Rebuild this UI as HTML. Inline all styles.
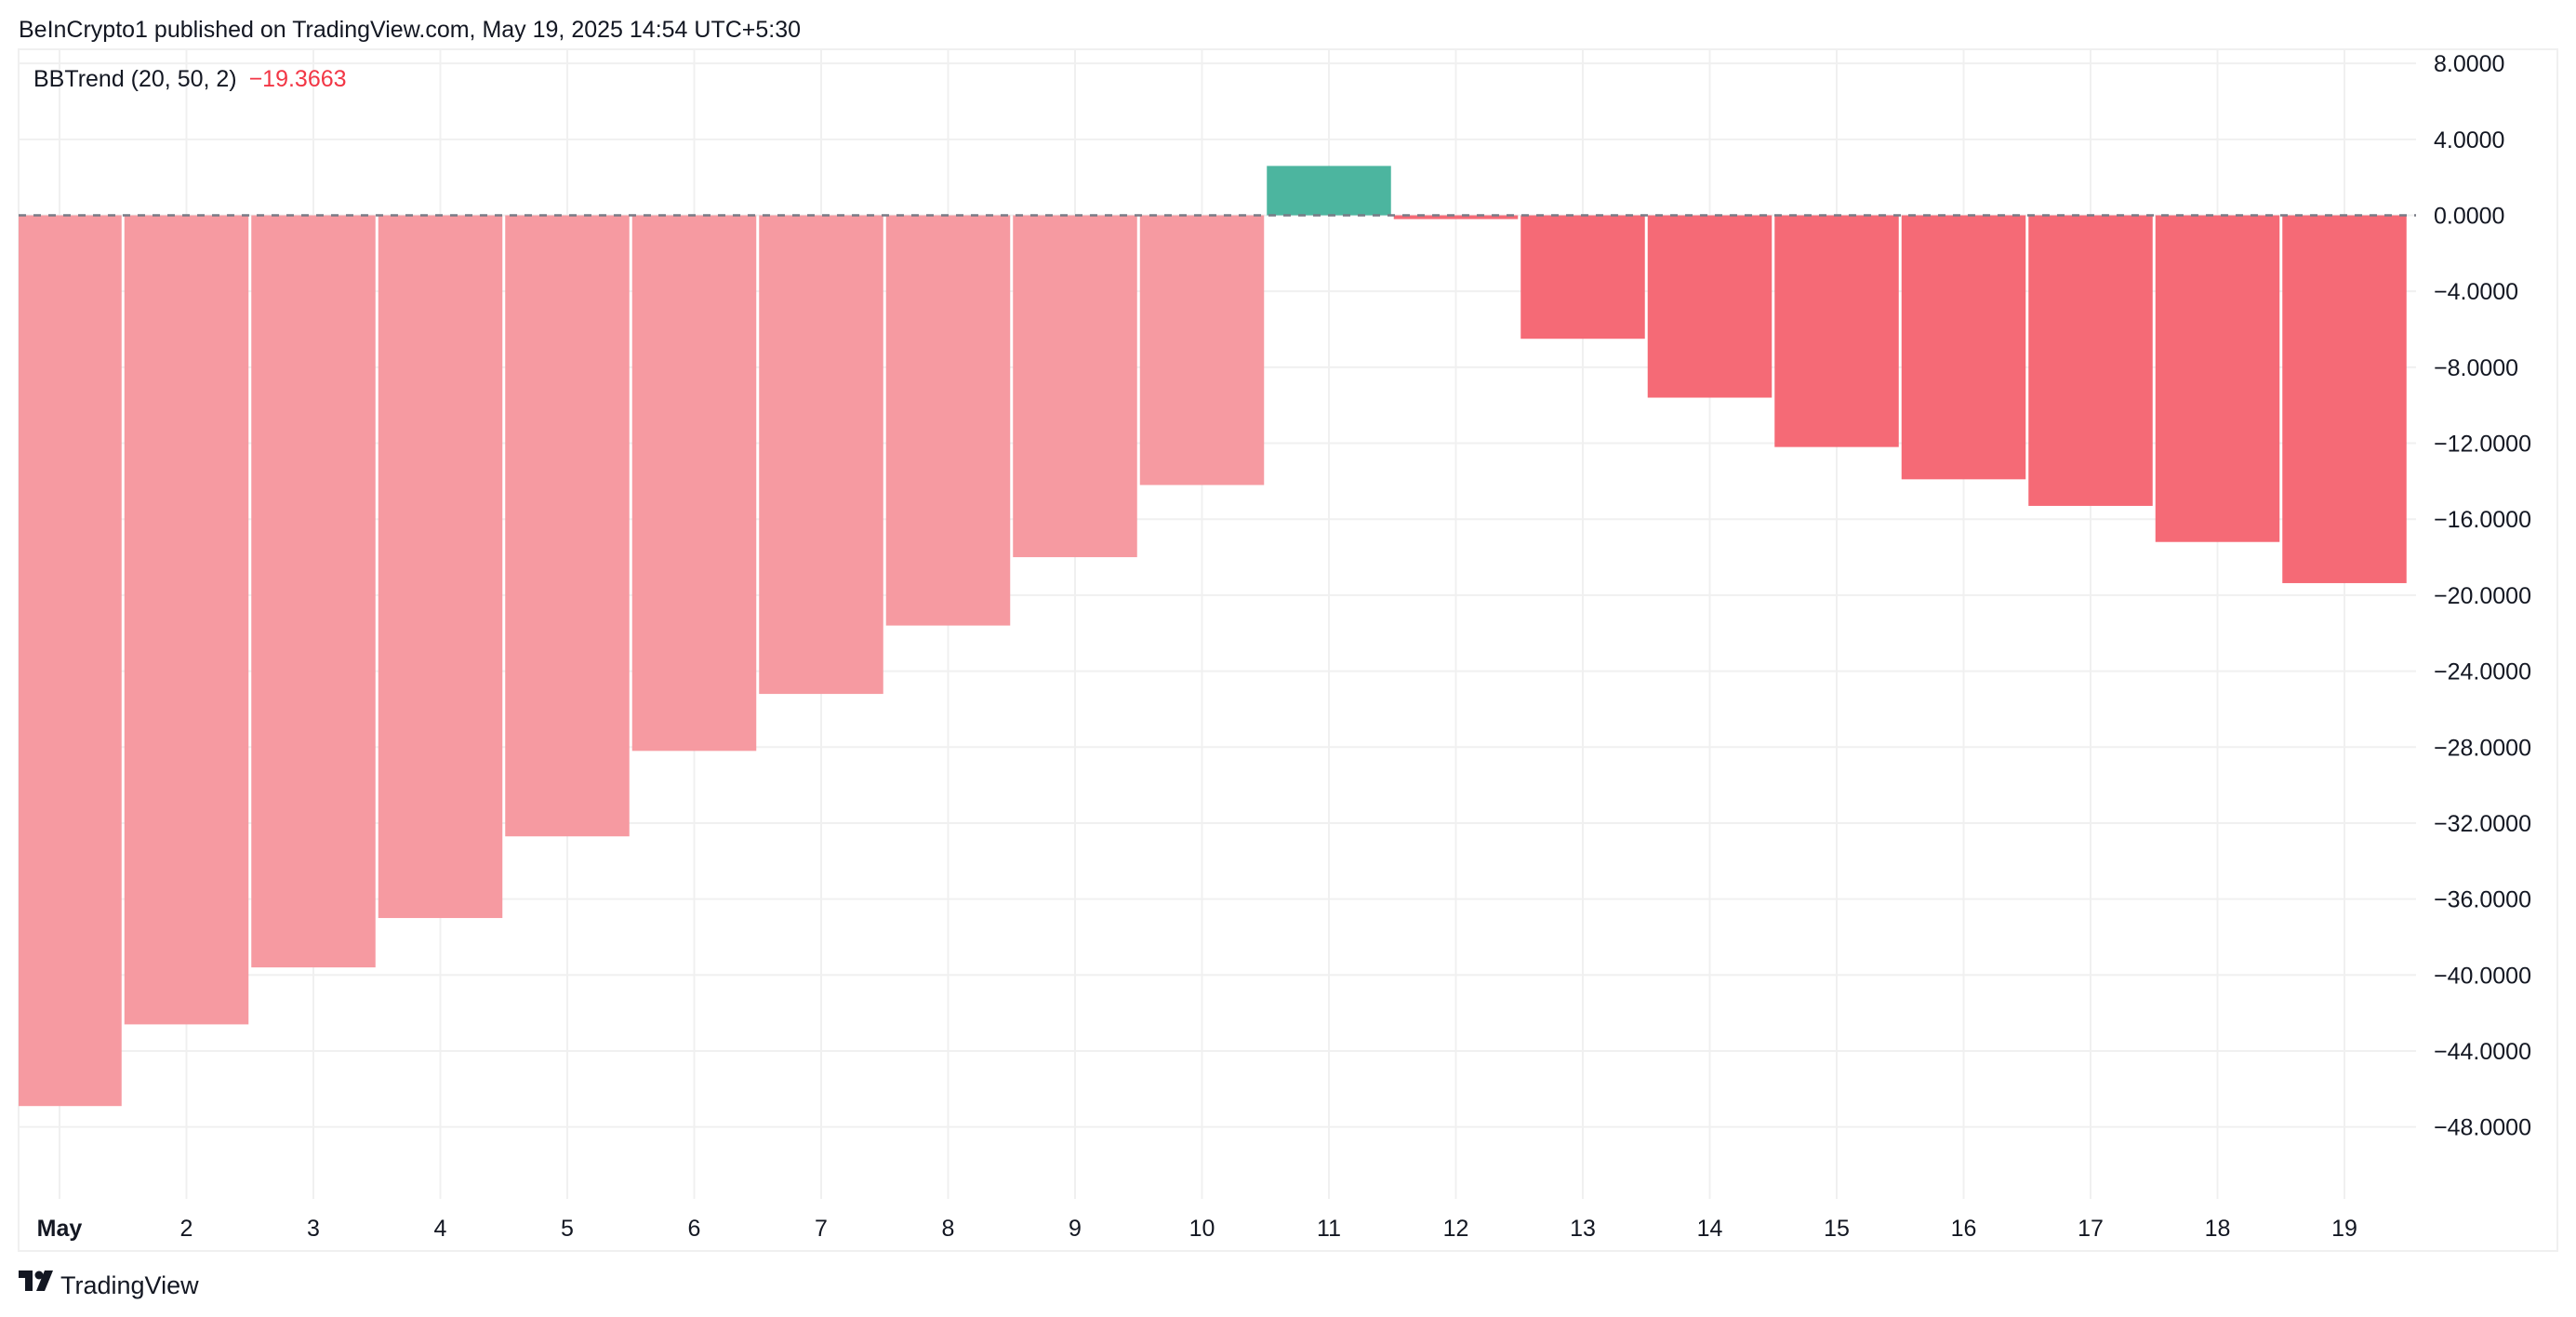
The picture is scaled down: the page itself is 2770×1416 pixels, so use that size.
<!DOCTYPE html>
<html><head><meta charset="utf-8"><style>
html,body{margin:0;padding:0;background:#fff;width:2770px;height:1416px;overflow:hidden;font-family:"Liberation Sans",sans-serif;}
svg text{font-family:"Liberation Sans",sans-serif;}
</style></head><body>
<svg id="chart" width="2770" height="1416" xmlns="http://www.w3.org/2000/svg">
<text x="20" y="40" font-size="25" fill="#131722">BeInCrypto1 published on TradingView.com, May 19, 2025 14:54 UTC+5:30</text>
<rect x="20" y="53" width="2730" height="1292" fill="none" stroke="#f0f0f0" stroke-width="2"/>
<g id="grid"></g>
<g id="bars"></g>
<line x1="20" x2="2598" y1="231.5" y2="231.5" stroke="#787b86" stroke-width="2.5" stroke-dasharray="8,8"/>
<g id="yaxis"></g>
<g id="xaxis"></g>
<text x="36" y="93" font-size="25" fill="#131722">BBTrend (20, 50, 2) <tspan fill="#f23645" dx="6">−19.3663</tspan></text>
<g>
<rect x="20" y="1366" width="14" height="8" fill="#131722"/>
<rect x="27" y="1366" width="8" height="22" fill="#131722"/>
<circle cx="42" cy="1371" r="4.5" fill="#131722"/>
<polygon points="48,1366 57,1366 48,1388 39,1388" fill="#131722"/>
<text x="65" y="1391" font-size="27" fill="#131722">TradingView</text>
</g>
</svg>
<script>
const days = ["May","2","3","4","5","6","7","8","9","10","11","12","13","14","15","16","17","18","19"];
const values = [-46.9,-42.6,-39.6,-37.0,-32.7,-28.2,-25.2,-21.6,-18.0,-14.2,2.6,-0.2,-6.5,-9.6,-12.2,-13.9,-15.3,-17.2,-19.3663];
const yTicks = [8,4,0,-4,-8,-12,-16,-20,-24,-28,-32,-36,-40,-44,-48];
const NS="http://www.w3.org/2000/svg";
const x0=64, dx=136.5, plotL=20, plotR=2598;
function xS(i){return x0+i*dx;}
function yS(v){return 231.5 - v*20.42;}
const grid=document.getElementById('grid'), bars=document.getElementById('bars'), ya=document.getElementById('yaxis'), xa=document.getElementById('xaxis');
yTicks.forEach(t=>{
  const l=document.createElementNS(NS,'line');
  
  
  l.setAttribute('x1',plotL);l.setAttribute('x2',plotR);l.setAttribute('y1',yS(t));l.setAttribute('y2',yS(t));
  l.setAttribute('stroke','#f0f0f0');l.setAttribute('stroke-width','2');grid.appendChild(l);
  const tx=document.createElementNS(NS,'text');
  
  
  tx.setAttribute('x',2617);tx.setAttribute('y',yS(t)+9);tx.setAttribute('font-size','25');tx.setAttribute('fill','#131722');
  tx.textContent=(t<0?'−':'')+Math.abs(t).toFixed(4);ya.appendChild(tx);
});
days.forEach((d,i)=>{
  const l=document.createElementNS(NS,'line');
  
  
  l.setAttribute('x1',xS(i));l.setAttribute('x2',xS(i));l.setAttribute('y1',53);l.setAttribute('y2',1289);
  l.setAttribute('stroke','#f0f0f0');l.setAttribute('stroke-width','2');grid.appendChild(l);
  const tx=document.createElementNS(NS,'text');
  
  
  tx.setAttribute('x',xS(i));tx.setAttribute('y',1329);tx.setAttribute('font-size','25');tx.setAttribute('text-anchor','middle');
  tx.setAttribute('fill','#131722');if(i===0)tx.setAttribute('font-weight','bold');
  tx.textContent=d;xa.appendChild(tx);
});
values.forEach((v,i)=>{
  let l=xS(i)-dx/2+1.5, r=xS(i)+dx/2-1.5;
  if(l<plotL)l=plotL;
  const y1=Math.min(yS(0),yS(v)), h=Math.max(Math.abs(yS(v)-yS(0)),2);
  let c = v>=0 ? '#4cb59f' : (i<10 ? '#f69aa1' : '#f56a76');
  if(i>0 && v<0 && values[i-1]<0 && v>values[i-1]) c='#f69aa1';
  if(i>0 && v<0 && v<=values[i-1]) c='#f56a76';
  const b=document.createElementNS(NS,'rect');
  
  
  b.setAttribute('x',l);b.setAttribute('y',y1);b.setAttribute('width',r-l);b.setAttribute('height',h);b.setAttribute('fill',c);
  bars.appendChild(b);
});
</script>
</body></html>
